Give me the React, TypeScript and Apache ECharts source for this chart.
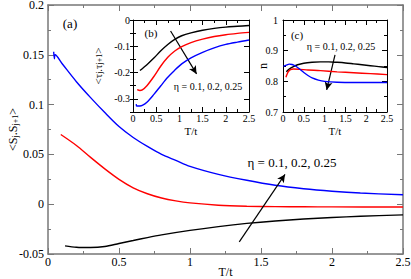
import React, { useEffect, useRef } from "react";
import * as echarts from "echarts";

// ---- Main panel (a): <Sj.Sj+1> vs T/t ----
const aBlueX = [0.04, 0.045, 0.05, 0.1, 0.2, 0.3, 0.4, 0.5, 0.6, 0.7, 0.8, 0.9, 1.0, 1.2, 1.4, 1.6, 1.8, 2.0, 2.2, 2.5];
const aBlueY = [0.153, 0.146, 0.150, 0.141, 0.123, 0.107, 0.092, 0.078, 0.067, 0.058, 0.050, 0.044, 0.038, 0.030, 0.024, 0.019, 0.0155, 0.0130, 0.0112, 0.0095];
const aRedX = [0.09, 0.2, 0.3, 0.4, 0.5, 0.6, 0.7, 0.8, 0.9, 1.0, 1.2, 1.4, 1.6, 1.8, 2.0, 2.5];
const aRedY = [0.070, 0.059, 0.047, 0.0355, 0.025, 0.0165, 0.0105, 0.0062, 0.0033, 0.0013, -0.0010, -0.0020, -0.0024, -0.0026, -0.0027, -0.0028];
const aBlackX = [0.12, 0.2, 0.3, 0.4, 0.5, 0.6, 0.7, 0.8, 1.0, 1.2, 1.4, 1.6, 1.8, 2.0, 2.2, 2.5];
const aBlackY = [-0.0418, -0.0432, -0.0435, -0.0425, -0.0395, -0.0365, -0.0335, -0.0308, -0.0263, -0.0225, -0.0193, -0.0168, -0.0149, -0.0134, -0.0121, -0.0107];
const aArrow = [[1.347, -0.0379], [1.669, 0.0299]];

// ---- Inset (b): <tau_j.tau_j+1> vs T/t ----
const bBlackX = [0.15, 0.3, 0.45, 0.6, 0.75, 0.9, 1.05, 1.25, 1.5, 1.75, 2.0, 2.25, 2.5];
const bBlackY = [-0.192, -0.170, -0.145, -0.117, -0.093, -0.074, -0.060, -0.049, -0.039, -0.032, -0.027, -0.024, -0.021];
const bRedX = [0.09, 0.15, 0.2, 0.3, 0.45, 0.6, 0.75, 0.9, 1.05, 1.25, 1.5, 1.75, 2.0, 2.25, 2.5];
const bRedY = [-0.265, -0.268, -0.266, -0.250, -0.215, -0.175, -0.142, -0.118, -0.101, -0.086, -0.073, -0.063, -0.056, -0.051, -0.047];
const bBlueX = [0.07, 0.08, 0.15, 0.2, 0.3, 0.45, 0.6, 0.75, 0.9, 1.05, 1.25, 1.5, 1.75, 2.0, 2.25, 2.5];
const bBlueY = [-0.320, -0.327, -0.327, -0.325, -0.313, -0.283, -0.250, -0.218, -0.191, -0.167, -0.144, -0.123, -0.106, -0.093, -0.084, -0.076];
const bArrow = [[0.81, -0.042], [1.37, -0.205]];
const bYLabels = [-0.3, -0.2, -0.1, 0];

// ---- Inset (c): n vs T/t ----
const cBlackX = [0.08, 0.15, 0.25, 0.35, 0.5, 0.7, 0.9, 1.1, 1.3, 1.5, 1.7, 1.9, 2.1, 2.3, 2.5];
const cBlackY = [0.831, 0.840, 0.848, 0.854, 0.859, 0.862, 0.8635, 0.8635, 0.862, 0.860, 0.857, 0.854, 0.851, 0.848, 0.845];
const cRedX = [0.07, 0.1, 0.13, 0.18, 0.25, 0.4, 0.6, 0.9, 1.3, 1.7, 2.1, 2.5];
const cRedY = [0.813, 0.824, 0.832, 0.838, 0.840, 0.839, 0.837, 0.835, 0.831, 0.828, 0.825, 0.822];
const cBlueX = [0.01, 0.08, 0.15, 0.22, 0.3, 0.4, 0.5, 0.6, 0.7, 0.85, 1.0, 1.3, 1.7, 2.1, 2.5];
const cBlueY = [0.849, 0.853, 0.856, 0.855, 0.850, 0.840, 0.829, 0.819, 0.811, 0.804, 0.800, 0.797, 0.796, 0.796, 0.796];
const cArrow = [[1.25, 0.886], [1.05, 0.772]];

const etaText = "η = 0.1, 0.2, 0.25";

const SERIF = "'Liberation Serif', 'Times New Roman', serif";

const zip = (xs: number[], ys: number[]) => xs.map((x, i) => [x, ys[i]]);

export default function App() {
  const ref = useRef<HTMLDivElement>(null);

  useEffect(() => {
    if (!ref.current) return;
    const chart = echarts.init(ref.current, undefined, { renderer: "svg" });

    const mainAxisColor = "#777";
    const label = (size: number, show = true, margin = 4, extra: any = {}) => ({
      show,
      color: "#000",
      fontFamily: SERIF,
      fontSize: size,
      margin,
      ...extra,
    });

    const xAxisFor = (grid: number, pos: "bottom" | "top", isMain: boolean, showLabel: boolean, extra: any = {}) => ({
      type: "value",
      gridIndex: grid,
      position: pos,
      min: 0,
      max: 2.5,
      interval: 0.5,
      nameMoveOverlap: false,
      axisLine: { show: true, onZero: false, lineStyle: { color: isMain ? mainAxisColor : "#000", width: isMain ? 1.5 : 1 } },
      axisTick: { show: true, inside: true, length: isMain ? 6 : 5, lineStyle: { color: isMain ? mainAxisColor : "#000", width: 1 } },
      minorTick: { show: true, splitNumber: 2, length: 3, lineStyle: { color: isMain ? mainAxisColor : "#000", width: 1 } },
      splitLine: { show: false },
      minorSplitLine: { show: false },
      axisLabel: label(isMain ? 12 : 10, showLabel, isMain ? 2 : 1, {
        formatter: (v: number) => String(+v.toFixed(2)),
      }),
      ...extra,
    });

    const richNameA = {
      a: { fontFamily: SERIF, fontSize: 12, color: "#000" },
      s: { fontFamily: SERIF, fontSize: 8, color: "#000", verticalAlign: "bottom", lineHeight: 8, padding: [6, 0, 0, 0] },
    };
    const richNameB = {
      a: { fontFamily: SERIF, fontSize: 11, color: "#000" },
      s: { fontFamily: SERIF, fontSize: 8, color: "#000", verticalAlign: "bottom", lineHeight: 8, padding: [5, 0, 0, 0] },
    };

    const lineSeries = (name: string, xi: number, yi: number, data: number[][], color: string, width: number, extra: any = {}) => ({
      type: "line",
      name,
      xAxisIndex: xi,
      yAxisIndex: yi,
      data,
      showSymbol: false,
      symbol: "none",
      smooth: 0.3,
      lineStyle: { color, width },
      z: 3,
      ...extra,
    });

    const arrowMark = (pts: number[][]) => ({
      silent: true,
      symbol: ["none", "arrow"],
      symbolSize: [6, 8],
      label: { show: false },
      lineStyle: { color: "#000", width: 1.2, type: "solid" },
      data: [[{ coord: pts[0] }, { coord: pts[1] }]],
    });

    const yBase = { type: "value", nameMoveOverlap: false, splitLine: { show: false } };

    const option: any = {
      animation: false,
      backgroundColor: "#fff",
      textStyle: { fontFamily: SERIF },
      grid: [
        { left: 48, top: 5, width: 355, height: 249, show: false, outerBoundsMode: "none", containLabel: false },
        { left: 133, top: 20, width: 116, height: 92, show: true, backgroundColor: "#fff", borderWidth: 0, z: 4, outerBoundsMode: "none", containLabel: false },
        { left: 283, top: 20, width: 104, height: 92, show: true, backgroundColor: "#fff", borderWidth: 0, z: 4, outerBoundsMode: "none", containLabel: false },
      ],
      xAxis: [
        xAxisFor(0, "bottom", true, true, {
          name: "T/t",
          nameLocation: "middle",
          nameGap: 12,
          nameTextStyle: { fontFamily: SERIF, fontSize: 12, color: "#000", verticalAlign: "top" },
        }),
        xAxisFor(0, "top", true, false),
        xAxisFor(1, "bottom", false, true, {
          name: "T/t",
          nameLocation: "middle",
          nameGap: 13,
          nameTextStyle: { fontFamily: SERIF, fontSize: 11, color: "#000", verticalAlign: "top" },
          z: 5,
        }),
        xAxisFor(1, "top", false, false, { z: 5 }),
        xAxisFor(2, "bottom", false, true, {
          name: "T/t",
          nameLocation: "middle",
          nameGap: 13,
          nameTextStyle: { fontFamily: SERIF, fontSize: 11, color: "#000", verticalAlign: "top" },
          z: 5,
        }),
        xAxisFor(2, "top", false, false, { z: 5 }),
      ],
      yAxis: [
        {
          ...yBase,
          gridIndex: 0,
          position: "left",
          min: -0.05,
          max: 0.2,
          interval: 0.05,
          name: "{a|<S}{s|j}{a|.S}{s|j+1}{a|>}",
          nameLocation: "middle",
          nameRotate: 90,
          nameGap: 29,
          nameTextStyle: { rich: richNameA },
          axisLine: { show: true, onZero: false, lineStyle: { color: mainAxisColor, width: 1.5 } },
          axisTick: { show: true, inside: true, length: 6, lineStyle: { color: mainAxisColor } },
          minorTick: { show: true, splitNumber: 2, length: 3, lineStyle: { color: mainAxisColor } },
          axisLabel: label(12, true, 4, { formatter: (v: number) => String(+v.toFixed(3)) }),
        },
        {
          ...yBase,
          gridIndex: 0,
          position: "right",
          min: -0.05,
          max: 0.2,
          interval: 0.05,
          axisLine: { show: true, onZero: false, lineStyle: { color: mainAxisColor, width: 1.5 } },
          axisTick: { show: true, inside: true, length: 6, lineStyle: { color: mainAxisColor } },
          minorTick: { show: true, splitNumber: 2, length: 3, lineStyle: { color: mainAxisColor } },
          axisLabel: { show: false },
        },
        {
          ...yBase,
          gridIndex: 1,
          position: "left",
          min: -0.35,
          max: 0,
          interval: 0.05,
          name: "{a|<τ}{s|j}{a|.τ}{s|j+1}{a|>}",
          nameLocation: "middle",
          nameRotate: 90,
          nameGap: 30,
          nameTextStyle: { rich: richNameB },
          axisLine: { show: true, onZero: false, lineStyle: { color: "#000", width: 1 } },
          axisTick: { show: true, inside: true, length: 5, customValues: bYLabels, lineStyle: { color: "#000" } },
          axisLabel: label(10, true, 3, {
            customValues: bYLabels,
            formatter: (v: number) => (Math.abs(Math.round(v * 10) - v * 10) < 1e-6 ? String(+v.toFixed(2)) : ""),
          }),
          z: 5,
        },
        {
          ...yBase,
          gridIndex: 1,
          position: "right",
          min: -0.35,
          max: 0,
          interval: 0.05,
          axisLine: { show: true, onZero: false, lineStyle: { color: "#000", width: 1 } },
          axisTick: { show: true, inside: true, length: 5, customValues: bYLabels, lineStyle: { color: "#000" } },
          axisLabel: { show: false },
          z: 5,
        },
        {
          ...yBase,
          gridIndex: 2,
          position: "left",
          min: 0.7,
          max: 1,
          interval: 0.1,
          name: "n",
          nameLocation: "middle",
          nameRotate: 90,
          nameGap: 14,
          nameTextStyle: { fontFamily: SERIF, fontSize: 12, color: "#000" },
          axisLine: { show: true, onZero: false, lineStyle: { color: "#000", width: 1 } },
          axisTick: { show: true, inside: true, length: 5, lineStyle: { color: "#000" } },
          minorTick: { show: true, splitNumber: 2, length: 3, lineStyle: { color: "#000" } },
          axisLabel: label(10, true, 5, { formatter: (v: number) => String(+v.toFixed(2)) }),
          z: 5,
        },
        {
          ...yBase,
          gridIndex: 2,
          position: "right",
          min: 0.7,
          max: 1,
          interval: 0.1,
          axisLine: { show: true, onZero: false, lineStyle: { color: "#000", width: 1 } },
          axisTick: { show: true, inside: true, length: 5, lineStyle: { color: "#000" } },
          minorTick: { show: true, splitNumber: 2, length: 3, lineStyle: { color: "#000" } },
          axisLabel: { show: false },
          z: 5,
        },
        {
          ...yBase,
          gridIndex: 1,
          position: "left",
          min: -0.35,
          max: 0,
          interval: 0.05,
          axisLine: { show: false },
          axisTick: { show: true, inside: true, length: 3, lineStyle: { color: "#000" } },
          axisLabel: { show: false },
          z: 5,
        },
        {
          ...yBase,
          gridIndex: 1,
          position: "right",
          min: -0.35,
          max: 0,
          interval: 0.05,
          axisLine: { show: false },
          axisTick: { show: true, inside: true, length: 3, lineStyle: { color: "#000" } },
          axisLabel: { show: false },
          z: 5,
        },
      ],
      series: [
        lineSeries("a-blue", 0, 0, zip(aBlueX, aBlueY), "#0000ff", 1.4),
        lineSeries("a-red", 0, 0, zip(aRedX, aRedY), "#ff0000", 1.4),
        lineSeries("a-black", 0, 0, zip(aBlackX, aBlackY), "#000000", 1.4, { markLine: arrowMark(aArrow) }),
        lineSeries("b-black", 2, 2, zip(bBlackX, bBlackY), "#000000", 1.4, { z: 6, markLine: arrowMark(bArrow) }),
        lineSeries("b-red", 2, 2, zip(bRedX, bRedY), "#ff0000", 1.4, { z: 6 }),
        lineSeries("b-blue", 2, 2, zip(bBlueX, bBlueY), "#0000ff", 1.4, { z: 6 }),
        lineSeries("c-black", 4, 4, zip(cBlackX, cBlackY), "#000000", 1.4, { z: 6, markLine: arrowMark(cArrow) }),
        lineSeries("c-red", 4, 4, zip(cRedX, cRedY), "#ff0000", 1.4, { z: 6 }),
        lineSeries("c-blue", 4, 4, zip(cBlueX, cBlueY), "#0000ff", 1.4, { z: 6 }),
      ],
      graphic: [
        { type: "text", x: 70, y: 23, z: 10, style: { text: "(a)", fontFamily: SERIF, fontSize: 13, fill: "#000", align: "center", verticalAlign: "middle" } },
        { type: "text", x: 151, y: 33, z: 10, style: { text: "(b)", fontFamily: SERIF, fontSize: 11, fill: "#000", align: "center", verticalAlign: "middle" } },
        { type: "text", x: 297, y: 35, z: 10, style: { text: "(c)", fontFamily: SERIF, fontSize: 11, fill: "#000", align: "center", verticalAlign: "middle" } },
        { type: "text", x: 292, y: 162, z: 10, style: { text: etaText, fontFamily: SERIF, fontSize: 13, fill: "#000", align: "center", verticalAlign: "middle" } },
        { type: "text", x: 208, y: 86, z: 10, style: { text: etaText, fontFamily: SERIF, fontSize: 10, fill: "#000", align: "center", verticalAlign: "middle" } },
        { type: "text", x: 341, y: 46, z: 10, style: { text: etaText, fontFamily: SERIF, fontSize: 10, fill: "#000", align: "center", verticalAlign: "middle" } },
      ],
    };

    chart.setOption(option);
    return () => chart.dispose();
  }, []);

  return <div ref={ref} style={{ width: 411, height: 279, position: "absolute", left: 0, top: 0 }} />;
}
